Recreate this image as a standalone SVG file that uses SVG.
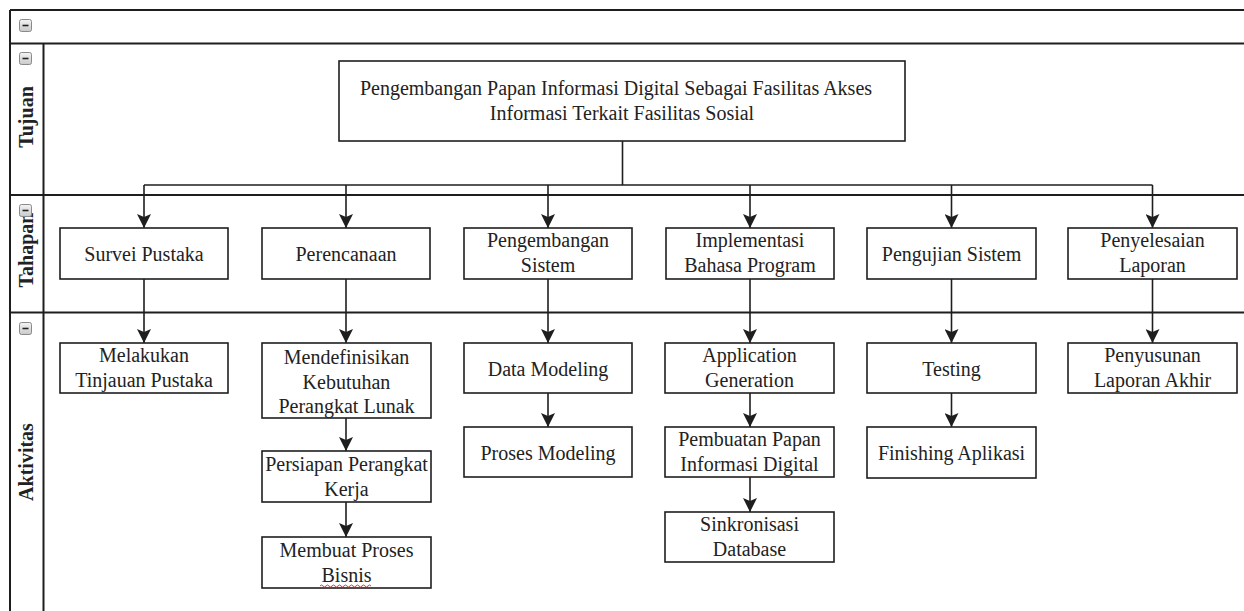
<svg xmlns="http://www.w3.org/2000/svg" width="1244" height="611" viewBox="0 0 1244 611">
<style>
.frame{stroke:#1e1e1e;stroke-width:2;fill:none}
.box{fill:#fff;stroke:#1e1e1e;stroke-width:1.6}
.t{font-family:"Liberation Serif","Times New Roman",serif;font-size:20px;fill:#222;text-anchor:middle}
.lane{font-family:"Liberation Serif","Times New Roman",serif;font-size:20px;font-weight:bold;fill:#222;text-anchor:middle}
.c{stroke:#1e1e1e;stroke-width:1.6;fill:none}
.a{marker-end:url(#arr)}
</style>
<defs>
<marker id="arr" markerUnits="userSpaceOnUse" markerWidth="14" markerHeight="14" refX="14" refY="7" orient="auto">
<path d="M0,0 L14,7 L0,14 L3,7 z" fill="#1e1e1e"/>
</marker>
<linearGradient id="ig" x1="0" y1="0" x2="0" y2="1">
<stop offset="0" stop-color="#f4f4f4"/>
<stop offset="1" stop-color="#c9c9c9"/>
</linearGradient>
<g id="icon">
<rect x="0.5" y="0.5" width="12" height="12" rx="2" fill="url(#ig)" stroke="#8a8a8a" stroke-width="1"/>
<line x1="3.5" y1="6.5" x2="9.5" y2="6.5" stroke="#222" stroke-width="1.6"/>
</g>
</defs>
<rect width="1244" height="611" fill="#fff"/>

<g id="pool">
<line class="frame" x1="10" y1="10" x2="1244" y2="10"/>
<line class="frame" x1="10" y1="43.5" x2="1244" y2="43.5"/>
<line class="frame" x1="10" y1="195" x2="1244" y2="195"/>
<line class="frame" x1="10" y1="312.5" x2="1244" y2="312.5"/>
<line class="frame" x1="10" y1="10" x2="10" y2="611"/>
<line class="frame" x1="43.5" y1="43.5" x2="43.5" y2="611"/>
<use href="#icon" x="19" y="19"/>
</g>

<g id="lane-tujuan">
<use href="#icon" x="19" y="52"/>
<text class="lane" transform="translate(33,117) rotate(-90)">Tujuan</text>
</g>
<g id="lane-tahapan">
<text class="lane" transform="translate(33,250) rotate(-90)">Tahapan</text>
<use href="#icon" x="19" y="204"/>
</g>
<g id="lane-aktivitas">
<use href="#icon" x="19" y="322"/>
<text class="lane" transform="translate(33,462) rotate(-90)">Aktivitas</text>
</g>

<g id="connectors">
<line class="c" x1="622.5" y1="141" x2="622.5" y2="185"/>
<line class="c" x1="144" y1="185" x2="1152.5" y2="185"/>
<line class="c a" x1="144" y1="185" x2="144" y2="228"/>
<line class="c a" x1="346" y1="185" x2="346" y2="228"/>
<line class="c a" x1="548" y1="185" x2="548" y2="228"/>
<line class="c a" x1="750" y1="185" x2="750" y2="228"/>
<line class="c a" x1="951.5" y1="185" x2="951.5" y2="228"/>
<line class="c a" x1="1152.5" y1="185" x2="1152.5" y2="228"/>
<line class="c a" x1="144" y1="279" x2="144" y2="343"/>
<line class="c a" x1="346" y1="279" x2="346" y2="343"/>
<line class="c a" x1="548" y1="279" x2="548" y2="343"/>
<line class="c a" x1="750" y1="279" x2="750" y2="343"/>
<line class="c a" x1="951.5" y1="279" x2="951.5" y2="343"/>
<line class="c a" x1="1152.5" y1="279" x2="1152.5" y2="343"/>
<line class="c a" x1="346" y1="418" x2="346" y2="451"/>
<line class="c a" x1="346" y1="502" x2="346" y2="537"/>
<line class="c a" x1="548" y1="393" x2="548" y2="427"/>
<line class="c a" x1="750" y1="393" x2="750" y2="427"/>
<line class="c a" x1="750" y1="477" x2="750" y2="512"/>
<line class="c a" x1="951.5" y1="393" x2="951.5" y2="427"/>
</g>

<g id="n-tujuan">
<rect class="box" x="339" y="61" width="566" height="80"/>
<text class="t" x="616" y="95">Pengembangan Papan Informasi Digital Sebagai Fasilitas Akses</text>
<text class="t" x="622" y="120">Informasi Terkait Fasilitas Sosial</text>
</g>

<g id="n-survei">
<rect class="box" x="60" y="228" width="168" height="51"/>
<text class="t" x="144" y="261">Survei Pustaka</text>
</g>
<g id="n-perencanaan">
<rect class="box" x="262" y="228" width="168" height="51"/>
<text class="t" x="346" y="261">Perencanaan</text>
</g>
<g id="n-pengembangan">
<rect class="box" x="464" y="228" width="168" height="51"/>
<text class="t" x="548" y="247">Pengembangan</text>
<text class="t" x="548" y="272">Sistem</text>
</g>
<g id="n-implementasi">
<rect class="box" x="666" y="228" width="168" height="51"/>
<text class="t" x="750" y="247">Implementasi</text>
<text class="t" x="750" y="272">Bahasa Program</text>
</g>
<g id="n-pengujian">
<rect class="box" x="867" y="228" width="169" height="51"/>
<text class="t" x="951.5" y="261">Pengujian Sistem</text>
</g>
<g id="n-penyelesaian">
<rect class="box" x="1068" y="228" width="169" height="51"/>
<text class="t" x="1152.5" y="247">Penyelesaian</text>
<text class="t" x="1152.5" y="272">Laporan</text>
</g>

<g id="n-melakukan">
<rect class="box" x="60" y="343" width="168" height="50"/>
<text class="t" x="144" y="362">Melakukan</text>
<text class="t" x="144" y="387">Tinjauan Pustaka</text>
</g>
<g id="n-mendefinisikan">
<rect class="box" x="262" y="343" width="169" height="75"/>
<text class="t" x="346.5" y="364">Mendefinisikan</text>
<text class="t" x="346.5" y="389">Kebutuhan</text>
<text class="t" x="346.5" y="413">Perangkat Lunak</text>
</g>
<g id="n-persiapan">
<rect class="box" x="262" y="451" width="169" height="51"/>
<text class="t" x="346.5" y="471">Persiapan Perangkat</text>
<text class="t" x="346.5" y="496">Kerja</text>
</g>
<g id="n-membuat">
<rect class="box" x="262" y="537" width="169" height="51"/>
<text class="t" x="346.5" y="557">Membuat Proses</text>
<text class="t" x="346.5" y="582">Bisnis</text>
<path d="M320,586 q1.5,-2 3,0 t3,0 t3,0 t3,0 t3,0 t3,0 t3,0 t3,0 t3,0 t3,0 t3,0 t3,0 t3,0 t3,0 t3,0 t3,0 t3,0" fill="none" stroke="#d33" stroke-width="1"/>
</g>
<g id="n-datamodeling">
<rect class="box" x="464" y="343" width="168" height="50"/>
<text class="t" x="548" y="376">Data Modeling</text>
</g>
<g id="n-prosesmodeling">
<rect class="box" x="464" y="427" width="168" height="50"/>
<text class="t" x="548" y="460">Proses Modeling</text>
</g>
<g id="n-appgen">
<rect class="box" x="665" y="343" width="169" height="50"/>
<text class="t" x="749.5" y="362">Application</text>
<text class="t" x="749.5" y="387">Generation</text>
</g>
<g id="n-pembuatan">
<rect class="box" x="665" y="427" width="169" height="50"/>
<text class="t" x="749.5" y="446">Pembuatan Papan</text>
<text class="t" x="749.5" y="471">Informasi Digital</text>
</g>
<g id="n-sinkronisasi">
<rect class="box" x="665" y="512" width="169" height="50"/>
<text class="t" x="749.5" y="531">Sinkronisasi</text>
<text class="t" x="749.5" y="556">Database</text>
</g>
<g id="n-testing">
<rect class="box" x="867" y="343" width="169" height="50"/>
<text class="t" x="951.5" y="376">Testing</text>
</g>
<g id="n-finishing">
<rect class="box" x="867" y="427" width="169" height="51"/>
<text class="t" x="951.5" y="460">Finishing Aplikasi</text>
</g>
<g id="n-penyusunan">
<rect class="box" x="1068" y="343" width="169" height="50"/>
<text class="t" x="1152.5" y="362">Penyusunan</text>
<text class="t" x="1152.5" y="387">Laporan Akhir</text>
</g>
</svg>
